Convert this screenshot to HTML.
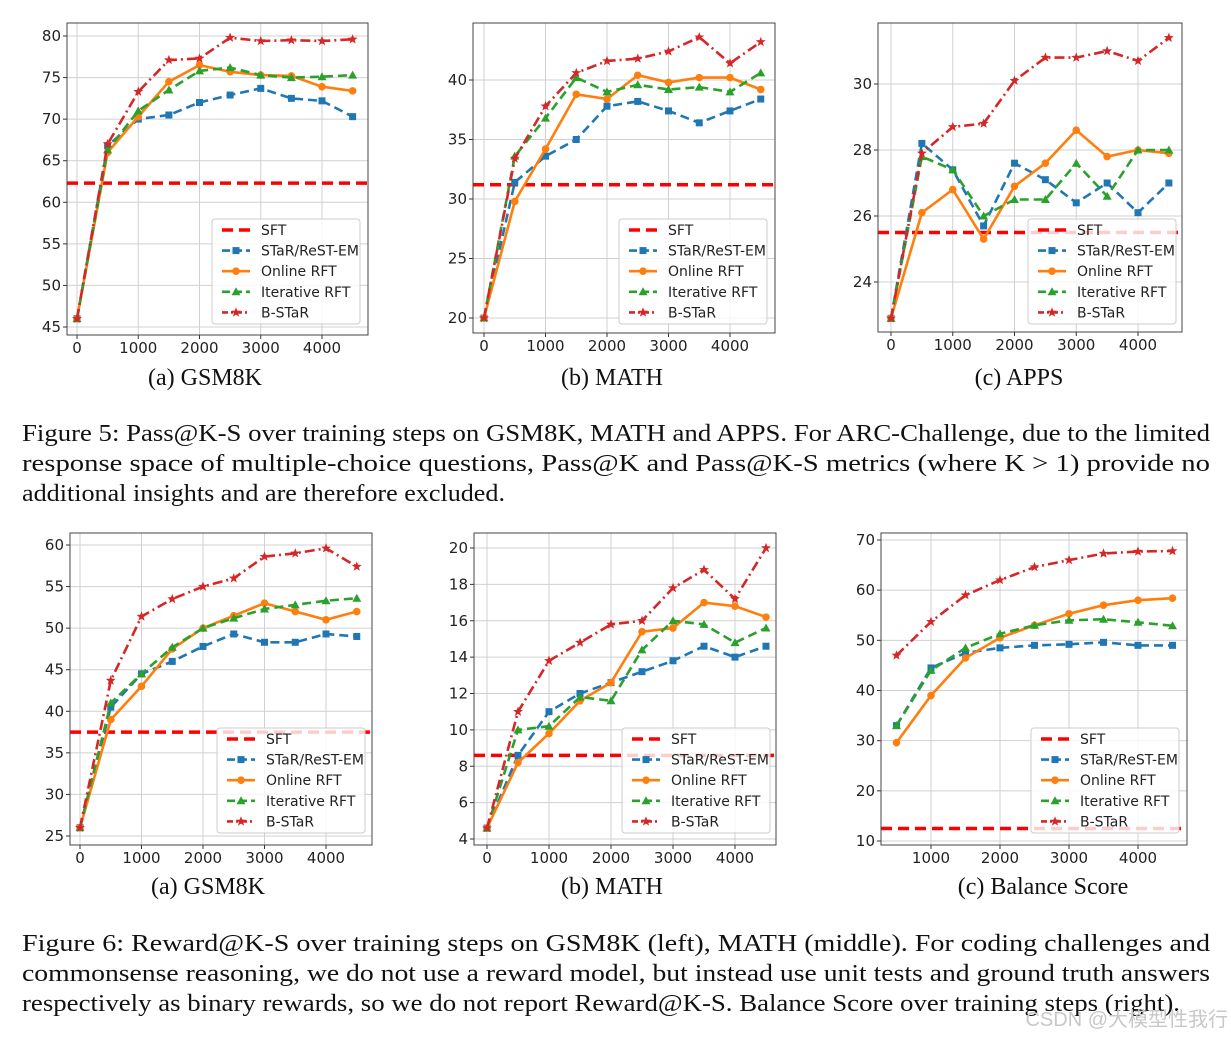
<!DOCTYPE html>
<html><head><meta charset="utf-8"><style>
html,body{margin:0;padding:0;background:#fff;}
svg{display:block;}
</style></head><body>
<svg id="fig" width="1231" height="1037" viewBox="0 0 1231 1037" xmlns="http://www.w3.org/2000/svg" font-family="'DejaVu Sans','Liberation Sans',sans-serif"></svg>
<script>
// ---- data ----
const steps = [0,500,1000,1500,2000,2500,3000,3500,4000,4500];
const stepsBal = [500,1000,1500,2000,2500,3000,3500,4000,4500];
const seriesNames = ["STaR/ReST-EM","Online RFT","Iterative RFT","B-STaR"];

const gsmTopStar = [46,66.8,70,70.5,72,72.9,73.7,72.5,72.2,70.3];
const gsmTopOnline = [46,66,70.3,74.5,76.5,75.7,75.3,75.2,73.9,73.4];
const gsmTopIter = [46,66.3,71,73.5,75.8,76.2,75.3,75,75.1,75.3];
const gsmTopB = [46,67,73.3,77.1,77.3,79.8,79.4,79.5,79.4,79.6];
const gsmTopSFT = 62.3;
const gsmTopTicks = [45,50,55,60,65,70,75,80];

const mathTopStar = [20,31.4,33.6,35,37.8,38.2,37.4,36.4,37.4,38.4];
const mathTopOnline = [20,29.8,34.2,38.8,38.4,40.4,39.8,40.2,40.2,39.2];
const mathTopIter = [20,33.6,36.8,40.2,39,39.6,39.2,39.4,39,40.6];
const mathTopB = [20,33.4,37.8,40.6,41.6,41.8,42.4,43.6,41.4,43.2];
const mathTopSFT = 31.2;
const mathTopTicks = [20,25,30,35,40];

const appsStar = [22.9,28.2,27.4,25.7,27.6,27.1,26.4,27,26.1,27];
const appsOnline = [22.9,26.1,26.8,25.3,26.9,27.6,28.6,27.8,28,27.9];
const appsIter = [22.9,27.8,27.4,26,26.5,26.5,27.6,26.6,28,28];
const appsB = [22.9,27.9,28.7,28.8,30.1,30.8,30.8,31,30.7,31.4];
const appsSFT = 25.5;
const appsTicks = [24,26,28,30];

const gsmBotStar = [26,40.5,44.5,46,47.8,49.3,48.3,48.3,49.3,49];
const gsmBotOnline = [26,39,43,47.5,50,51.5,53,52,51,52];
const gsmBotIter = [26,41,44.5,47.7,50,51.2,52.3,52.8,53.3,53.6];
const gsmBotB = [26,43.7,51.4,53.5,55,56,58.6,59,59.6,57.4];
const gsmBotSFT = 37.5;
const gsmBotTicks = [25,30,35,40,45,50,55,60];

const mathBotStar = [4.6,8.6,11,12,12.6,13.2,13.8,14.6,14,14.6];
const mathBotOnline = [4.6,8.2,9.8,11.6,12.6,15.4,15.6,17,16.8,16.2];
const mathBotIter = [4.6,10,10.2,11.8,11.6,14.4,16,15.8,14.8,15.6];
const mathBotB = [4.6,11,13.8,14.8,15.8,16,17.8,18.8,17.2,20];
const mathBotSFT = 8.6;
const mathBotTicks = [4,6,8,10,12,14,16,18,20];

const balStar = [33,44.5,47.5,48.5,49,49.2,49.6,49,49];
const balOnline = [29.6,39,46.5,50.5,53,55.3,57,58,58.4];
const balIter = [33,44,48.5,51.3,53,54,54.2,53.6,52.9];
const balB = [47,53.7,59,62,64.6,66,67.3,67.7,67.8];
const balSFT = 12.5;
const balTicks = [10,20,30,40,50,60,70];

const xTicksFull = [0,1000,2000,3000,4000];
const xTicksBal = [1000,2000,3000,4000];

// ---- layout ----
const NS = "http://www.w3.org/2000/svg";
const svg = document.getElementById('fig');
function mk(tag, attrs, parent){
  const e = document.createElementNS(NS, tag);
  for (const k in attrs) e.setAttribute(k, attrs[k]);
  (parent||svg).appendChild(e);
  return e;
}
const COLORS = ["#1f77b4","#ff7f0e","#2ca02c","#d62728"];
const DASH = ["9,5","none","9,5","10,4,2,4"];

const panels = [
  {name:"gsm8k-pass", fx:[67,368], fy:[23,335], x0:[0,77], x1:[4000,322], y0:[80,36], y1:[45,327], xs:steps, s:[gsmTopStar,gsmTopOnline,gsmTopIter,gsmTopB], sft:gsmTopSFT, yt:gsmTopTicks, xt:xTicksFull, leg:[212,219], cap:"(a)  GSM8K", capx:205, capy:385},
  {name:"math-pass", fx:[473,775], fy:[23,333], x0:[0,484], x1:[4000,730], y0:[40,80], y1:[20,318], xs:steps, s:[mathTopStar,mathTopOnline,mathTopIter,mathTopB], sft:mathTopSFT, yt:mathTopTicks, xt:xTicksFull, leg:[619,219], cap:"(b)  MATH", capx:612, capy:385},
  {name:"apps-pass", fx:[878,1182], fy:[23,332], x0:[0,891], x1:[4000,1138], y0:[30,84], y1:[24,282], xs:steps, s:[appsStar,appsOnline,appsIter,appsB], sft:appsSFT, yt:appsTicks, xt:xTicksFull, leg:[1028,219], cap:"(c)  APPS", capx:1019, capy:385},
  {name:"gsm8k-reward", fx:[70,372], fy:[533,845], x0:[0,80], x1:[4000,326], y0:[60,545], y1:[25,836], xs:steps, s:[gsmBotStar,gsmBotOnline,gsmBotIter,gsmBotB], sft:gsmBotSFT, yt:gsmBotTicks, xt:xTicksFull, leg:[217,728], cap:"(a)  GSM8K", capx:208, capy:894},
  {name:"math-reward", fx:[474,776], fy:[533,845], x0:[0,487], x1:[4000,735], y0:[20,548], y1:[4,839], xs:steps, s:[mathBotStar,mathBotOnline,mathBotIter,mathBotB], sft:mathBotSFT, yt:mathBotTicks, xt:xTicksFull, leg:[622,728], cap:"(b)  MATH", capx:612, capy:894},
  {name:"balance-score", fx:[881,1187], fy:[533,845], x0:[1000,931], x1:[4000,1138], y0:[70,540], y1:[10,841], xs:stepsBal, s:[balStar,balOnline,balIter,balB], sft:balSFT, yt:balTicks, xt:xTicksBal, leg:[1031,728], cap:"(c)  Balance Score", capx:1043, capy:894}
];

function marker(g, k, x, y, c){
  let m;
  if (k===0) m = mk('rect',{x:x-3.5,y:y-3.5,width:7,height:7,fill:c},g);
  else if (k===1) m = mk('circle',{cx:x,cy:y,r:3.8,fill:c},g);
  else if (k===2) m = mk('polygon',{points:`${x},${y-4.5} ${x+4.5},${y+3.5} ${x-4.5},${y+3.5}`,fill:c},g);
  else {
    let p=[];
    for(let i=0;i<10;i++){const r=i%2?2.2:5.2;const a=-Math.PI/2+i*Math.PI/5;p.push((x+r*Math.cos(a)).toFixed(1)+','+(y+r*Math.sin(a)).toFixed(1));}
    m = mk('polygon',{points:p.join(' '),fill:c},g);
  }
  
  
}

panels.forEach(P=>{
  const X = v => P.x0[1] + (v-P.x0[0])*(P.x1[1]-P.x0[1])/(P.x1[0]-P.x0[0]);
  const Y = v => P.y0[1] + (v-P.y0[0])*(P.y1[1]-P.y0[1])/(P.y1[0]-P.y0[0]);
  const g = mk('g',{});
  
  
  const [l,r]=P.fx, [t,b]=P.fy;
  P.xt.forEach(v=>{ mk('line',{x1:X(v),x2:X(v),y1:t,y2:b,stroke:'#d0d0d0','stroke-width':1},g);
    const tx = mk('text',{x:X(v),y:b+18,'text-anchor':'middle','font-size':15,fill:'#222'},g); tx.textContent=v;
     
    mk('line',{x1:X(v),x2:X(v),y1:b,y2:b+4,stroke:'#333'},g);
  });
  P.yt.forEach(v=>{ mk('line',{x1:l,x2:r,y1:Y(v),y2:Y(v),stroke:'#d0d0d0','stroke-width':1},g);
    const tx = mk('text',{x:l-6,y:Y(v)+5,'text-anchor':'end','font-size':15,fill:'#222'},g); tx.textContent=v;
     
    mk('line',{x1:l-4,x2:l,y1:Y(v),y2:Y(v),stroke:'#333'},g);
  });
  const sl = mk('line',{x1:l,x2:r,y1:Y(P.sft),y2:Y(P.sft),stroke:'#ff0000','stroke-width':3.5,'stroke-dasharray':'11,6'},g);
   
  P.s.forEach((arr,k)=>{
    const pts = arr.map((v,i)=>X(P.xs[i]).toFixed(1)+','+Y(v).toFixed(1)).join(' ');
    const pl = mk('polyline',{points:pts,fill:'none',stroke:COLORS[k],'stroke-width':2.6,'stroke-dasharray':DASH[k]},g);
    
    
    arr.forEach((v,i)=>marker(g,k,X(P.xs[i]),Y(v),COLORS[k]));
  });
  mk('rect',{x:l,y:t,width:r-l,height:b-t,fill:'none',stroke:'#444','stroke-width':1},g);
  const [lx,ly]=P.leg;
  const lg = mk('g',{},g);
   
  mk('rect',{x:lx,y:ly,width:148,height:105,rx:3,fill:'rgba(255,255,255,0.8)',stroke:'#ccc'},lg);
  const labels=["SFT"].concat(seriesNames);
  labels.forEach((lab,i)=>{
    const yy = ly+11+i*20.6;
    if(i===0) mk('line',{x1:lx+10,x2:lx+38,y1:yy,y2:yy,stroke:'#ff0000','stroke-width':3.5,'stroke-dasharray':'11,6'},lg);
    else { mk('line',{x1:lx+10,x2:lx+38,y1:yy,y2:yy,stroke:COLORS[i-1],'stroke-width':2.6,'stroke-dasharray':DASH[i-1]==='none'?'none':(i-1===3?'6,3,2,3':'8,4')},lg); marker(lg,i-1,lx+24,yy,COLORS[i-1]); }
    const tx = mk('text',{x:lx+49,y:yy+5,'font-size':14,fill:'#222'},lg); tx.textContent=lab;
     
  });
  const cap = mk('text',{x:P.capx,y:P.capy,'text-anchor':'middle','font-size':24,'font-family':"'Liberation Serif',serif",fill:'#111'});
  cap.textContent = P.cap;
   
});

const capLines = [
  [441,"Figure 5: Pass@K-S over training steps on GSM8K, MATH and APPS. For ARC-Challenge, due to the limited",1188],
  [471,"response space of multiple-choice questions, Pass@K and Pass@K-S metrics (where K > 1) provide no",1188],
  [501,"additional insights and are therefore excluded.",483],
  [951,"Figure 6: Reward@K-S over training steps on GSM8K (left), MATH (middle). For coding challenges and",1188],
  [981,"commonsense reasoning, we do not use a reward model, but instead use unit tests and ground truth answers",1188],
  [1011,"respectively as binary rewards, so we do not report Reward@K-S. Balance Score over training steps (right).",1158]
];
capLines.forEach(c=>{
  const t = mk('text',{x:22,y:c[0],'font-size':24,'font-family':"'Liberation Serif',serif",fill:'#111',textLength:c[2],lengthAdjust:'spacingAndGlyphs'});
  t.textContent = c[1];
  
  
});
const wm = mk('text',{x:1228,y:1026,'text-anchor':'end','font-size':20,'font-family':"'Liberation Sans','Noto Sans CJK SC',sans-serif",fill:'#c8c8c8'});
wm.textContent = "CSDN @大模型性我行";


</script>
</body></html>
